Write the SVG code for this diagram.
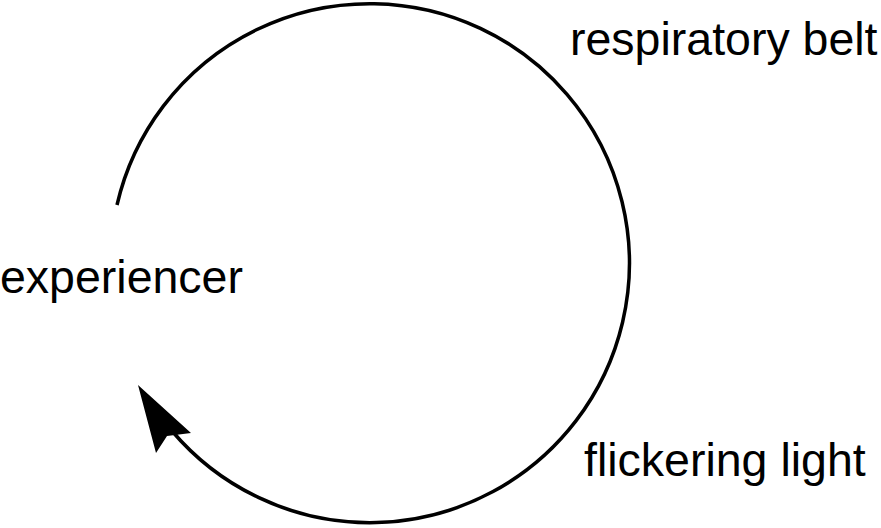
<svg xmlns="http://www.w3.org/2000/svg" width="881" height="528" viewBox="0 0 881 528">
<style>
.lbl{font-family:"Liberation Sans",Arial,sans-serif;font-size:46.5px;fill:#000}
.conn{fill:none;stroke:#000;stroke-width:3.5}
.head{fill:#000;stroke:none}
</style>
<rect width="881" height="528" fill="#fff"/>
<g id="connectors">
<path class="conn" d="M117,205 A259.5,259.5 0 1 1 172,431"/>
<polygon class="head" points="138,385 191,433 167,436 156,453"/>
</g>
<g id="node-respiratory-belt"><text class="lbl" x="570" y="55">respiratory belt</text></g>
<g id="node-experiencer"><text class="lbl" x="0" y="293">experiencer</text></g>
<g id="node-flickering-light"><text class="lbl" x="584" y="476">flickering light</text></g>
</svg>
